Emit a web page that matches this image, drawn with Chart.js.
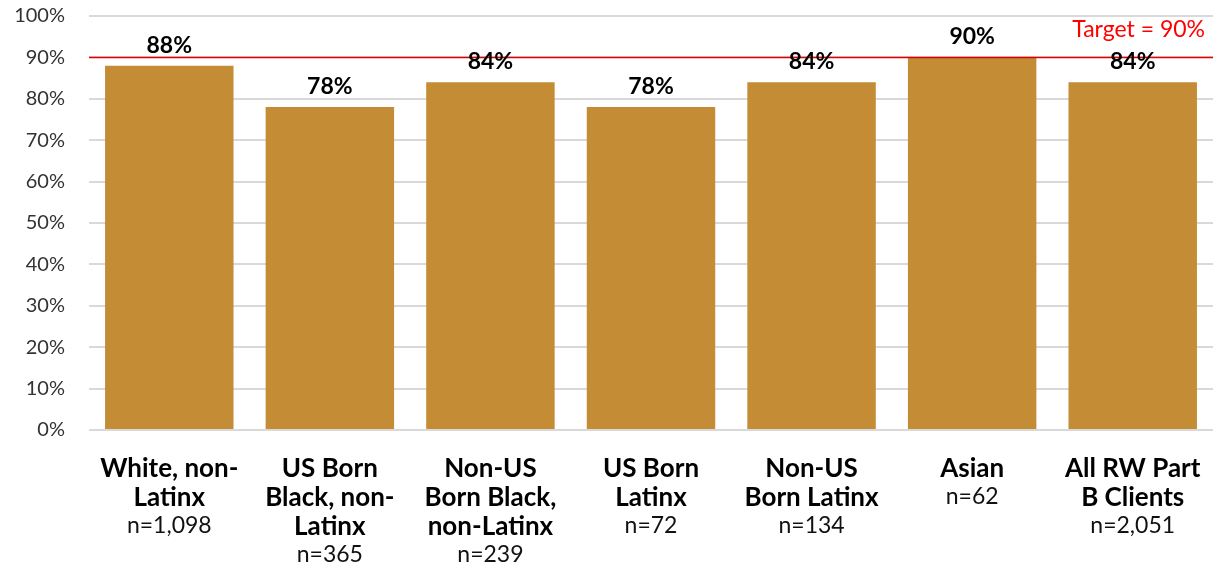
<!DOCTYPE html>
<html>
<head>
<meta charset="utf-8">
<script src="https://cdn.jsdelivr.net/npm/chart.js@4"></script>
<style>
  html, body { margin: 0; padding: 0; background: #fff; }
  #wrap { width: 1213px; height: 565px; position: relative; }
</style>
</head>
<body>
<div id="wrap"><canvas id="c" width="1213" height="565"></canvas></div>
<script>
const categories = [
  ["White, non-", "Latinx"],
  ["US Born", "Black, non-", "Latinx"],
  ["Non-US", "Born Black,", "non-Latinx"],
  ["US Born", "Latinx"],
  ["Non-US", "Born Latinx"],
  ["Asian"],
  ["All RW Part", "B Clients"]
];
const sampleSizes = ["n=1,098", "n=365", "n=239", "n=72", "n=134", "n=62", "n=2,051"];
const percentages = [88, 78, 84, 78, 84, 90, 84];
const targetValue = 90;
const targetLabel = "Target = 90%";

const BAR_COLOR = '#C48C35';
const GRID_COLOR = '#D9D9D9';

const overlayPlugin = {
  id: 'overlay',
  afterDatasetsDraw(chart) {
    const ctx = chart.ctx;
    const x = chart.scales.x, y = chart.scales.y;
    const area = chart.chartArea;
    ctx.save();
    // target line
    const ty = y.getPixelForValue(targetValue);
    ctx.strokeStyle = '#E00000';
    ctx.lineWidth = 1.5;
    ctx.beginPath();
    ctx.moveTo(area.left, ty);
    ctx.lineTo(area.right, ty);
    ctx.stroke();
    // target label
    ctx.fillStyle = '#FF0000';
    ctx.font = '23px Lato';
    ctx.textAlign = 'right';
    ctx.textBaseline = 'alphabetic';
    ctx.fillText(targetLabel, area.right - 8, ty - 20);
    // data labels
    const meta = chart.getDatasetMeta(0);
    ctx.fillStyle = '#000';
    ctx.font = 'bold 23px Lato';
    ctx.textAlign = 'center';
    meta.data.forEach((bar, i) => {
      ctx.fillText(percentages[i] + '%', bar.x, bar.y - 13);
    });
    // category labels
    categories.forEach((lines, i) => {
      const cx = x.getPixelForValue(i);
      let by = area.bottom + 47;
      ctx.font = 'bold 26px Lato';
      ctx.fillStyle = '#000';
      lines.forEach((ln, k) => {
        ctx.fillText(ln, cx, by + k * 29);
      });
      ctx.font = '23px Lato';
      ctx.fillStyle = '#111';
      ctx.fillText(sampleSizes[i], cx, by + (lines.length - 1) * 29 + 27);
    });
    ctx.restore();
  }
};

new Chart(document.getElementById('c'), {
  type: 'bar',
  data: {
    labels: categories,
    datasets: [{
      data: percentages,
      backgroundColor: BAR_COLOR,
      borderWidth: 0,
      barPercentage: 0.8,
      categoryPercentage: 1.0
    }]
  },
  options: {
    responsive: false,
    animation: false,
    layout: { padding: { top: 16, left: 0, right: 0, bottom: 0 } },
    plugins: { legend: { display: false }, tooltip: { enabled: false } },
    scales: {
      x: {
        grid: { display: false },
        border: { display: false },
        ticks: { display: false },
        afterFit(scale) { scale.height = 135; }
      },
      y: {
        min: 0,
        max: 100,
        grid: { color: GRID_COLOR, lineWidth: 2, drawTicks: true, tickLength: 24, tickColor: 'rgba(0,0,0,0)' },
        border: { display: false },
        ticks: {
          stepSize: 10,
          padding: 0,
          color: '#333',
          font: { family: 'Lato', size: 20 },
          callback: v => v + '%'
        },
        afterFit(scale) { scale.width = 89; }
      }
    }
  },
  plugins: [overlayPlugin]
});
</script>
</body>
</html>
